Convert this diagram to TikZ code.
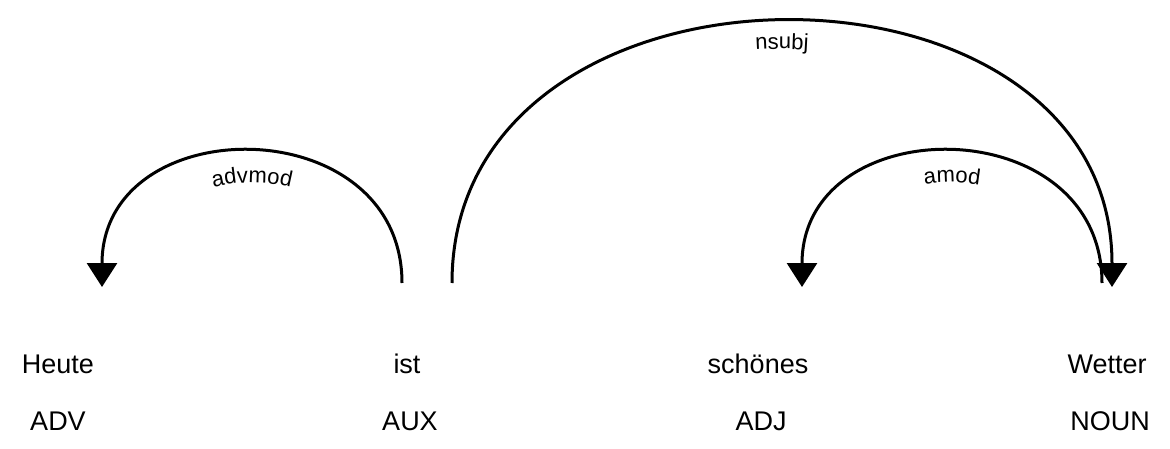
\documentclass[tikz,border=0pt]{standalone}
\usepackage{fontspec}
\setmainfont{Liberation Sans}
\usetikzlibrary{arrows.meta,decorations.text}
\begin{document}
\begin{tikzpicture}[x=1pt,y=1pt,
  >={Triangle[width=30pt,length=24pt]},
  word/.style={anchor=base,font=\fontsize{27}{27}\selectfont,inner sep=0pt},
  arc/.style={line width=3pt},
  lab/.style={decorate,decoration={text along path,
     text={|\fontsize{22}{22}\selectfont|#1},text align=center}}
]
\useasboundingbox (0,0) rectangle (1170,448);
% words
\node[word] (w1) at (58,75) {Heute};
\node[word] (w2) at (407,75) {ist};
\node[word] (w3) at (758,75) {schönes};
\node[word] (w4) at (1107,75) {Wetter};
% tags
\node[word] (t1) at (58,18) {ADV};
\node[word] (t2) at (410,18) {AUX};
\node[word] (t3) at (761,18) {ADJ};
\node[word] (t4) at (1110,18) {NOUN};
% arc ends
\coordinate (hA) at (102,161);
\coordinate (iA) at (402,165);
\coordinate (iB) at (452,165);
\coordinate (sA) at (802,161);
\coordinate (wA) at (1102,165);
\coordinate (wB) at (1112,161);
% label baselines (inner parallels of the arcs)
\coordinate (advL) at (133,165);
\coordinate (advR) at (371,165);
\coordinate (amL) at (833,165);
\coordinate (amR) at (1071,165);
\coordinate (nsL) at (480,165);
\coordinate (nsR) at (1084,165);
% advmod
\draw[arc,<-] (hA) .. controls +(0,179) and +(0,175) .. (iA);
\path[lab={advmod}] (advL) .. controls +(0,134) and +(0,134) .. (advR);
% amod
\draw[arc,<-] (sA) .. controls +(0,179) and +(0,175) .. (wA);
\path[lab={amod}] (amL) .. controls +(0,134) and +(0,134) .. (amR);
% nsubj
\draw[arc,->] (iB) .. controls +(0,348) and +(0,352) .. (wB);
\path[lab={nsubj}] (nsL) .. controls +(0,312) and +(0,312) .. (nsR);
\end{tikzpicture}
\end{document}
